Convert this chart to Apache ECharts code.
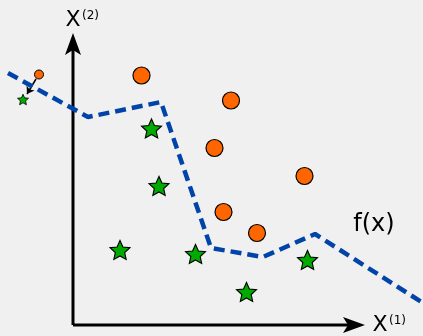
<!DOCTYPE html>
<html>
<head>
<meta charset="utf-8">
<script src="https://cdn.jsdelivr.net/npm/echarts@6/dist/echarts.min.js"></script>
<style>
html,body{margin:0;padding:0;background:#f0f0f0;}
#chart{width:423px;height:336px;}
</style>
</head>
<body>
<div id="chart"></div>
<script>
// Data coordinates: origin at the axes' corner, x to the right, y upward.
const boundaryLine = [[-65, 252], [15, 208], [88, 223], [138, 77], [190, 68], [242, 91], [350, 22]];
const circlePoints = [[68.5, 249.5], [158, 224.5], [141.5, 177], [231.5, 149], [150.5, 113], [184, 92]];
const starPoints = [[78.5, 196.5], [86, 139], [47, 75], [122.5, 71], [173.5, 33], [234.5, 65]];
const legendCircle = [[-34, 250.5]];
const legendStar = [[-50, 225.5]];
const legendArrow = [[[-37, 246], [-46, 231]]];
const axisY = [[0, 0], [0, 277]];
const axisX = [[0, 0], [277, 0]];
const arrowHeadY = [[0, 281]];
const arrowHeadX = [[281, 0]];

const starPath = 'path://M100,0 L127.5,62 L195.1,69.1 L144.5,114.6 L158.8,180.9 L100,147.5 L41.2,180.9 L55.5,114.6 L4.9,69.1 L72.5,62 Z';
const headPath = 'path://M8,0 L16,22 L8,17 L0,22 Z';

const chart = echarts.init(document.getElementById('chart'), null, {renderer: 'canvas'});
chart.setOption({
  animation: false,
  backgroundColor: '#f0f0f0',
  grid: {left: 0, top: 0, width: 423, height: 336},
  xAxis: {type: 'value', min: -73, max: 350, show: false},
  yAxis: {type: 'value', min: -11, max: 325, show: false},
  series: [
    {type: 'line', data: axisY, showSymbol: false, lineStyle: {color: '#000', width: 3}},
    {type: 'line', data: axisX, showSymbol: false, lineStyle: {color: '#000', width: 3}},
    {type: 'scatter', data: arrowHeadY, symbol: headPath, symbolSize: [16, 22], itemStyle: {color: '#000', opacity: 1}},
    {type: 'scatter', data: arrowHeadX, symbol: headPath, symbolSize: [16, 22], symbolRotate: -90, itemStyle: {color: '#000', opacity: 1}},
    {type: 'line', data: boundaryLine, showSymbol: false, lineStyle: {color: '#0044aa', width: 4.5, type: [11, 6], cap: 'butt'}},
    {type: 'lines', coordinateSystem: 'cartesian2d', data: legendArrow.map(c => ({coords: c})), symbol: ['none', 'arrow'], symbolSize: 7, lineStyle: {color: '#000', width: 1.5, opacity: 1}},
    {type: 'scatter', data: circlePoints, symbol: 'circle', symbolSize: 17, itemStyle: {color: '#ff6600', borderColor: '#000', borderWidth: 1.2, opacity: 1}},
    {type: 'scatter', data: starPoints, symbol: starPath, symbolSize: [20, 19], itemStyle: {color: '#00aa00', borderColor: '#000', borderWidth: 1.1, opacity: 1}},
    {type: 'scatter', data: legendCircle, symbol: 'circle', symbolSize: 9, itemStyle: {color: '#ff6600', borderColor: '#000', borderWidth: 1, opacity: 1}},
    {type: 'scatter', data: legendStar, symbol: starPath, symbolSize: [11, 10.5], itemStyle: {color: '#00aa00', borderColor: '#000', borderWidth: 0.8, opacity: 1}}
  ],
  graphic: [
    {type: 'text', style: {text: 'X', x: 73, y: 20, font: '22px "DejaVu Sans"', fill: '#000', align: 'center', verticalAlign: 'middle'}},
    {type: 'text', style: {text: '(2)', x: 82, y: 16, font: '12px "DejaVu Sans"', fill: '#000', align: 'left', verticalAlign: 'middle'}},
    {type: 'text', style: {text: 'X', x: 380, y: 325, font: '22px "DejaVu Sans"', fill: '#000', align: 'center', verticalAlign: 'middle'}},
    {type: 'text', style: {text: '(1)', x: 389, y: 321, font: '12px "DejaVu Sans"', fill: '#000', align: 'left', verticalAlign: 'middle'}},
    {type: 'text', style: {text: 'f(x)', x: 374, y: 225, font: '24px "DejaVu Sans"', fill: '#000', align: 'center', verticalAlign: 'middle'}}
  ]
});
</script>
</body>
</html>
